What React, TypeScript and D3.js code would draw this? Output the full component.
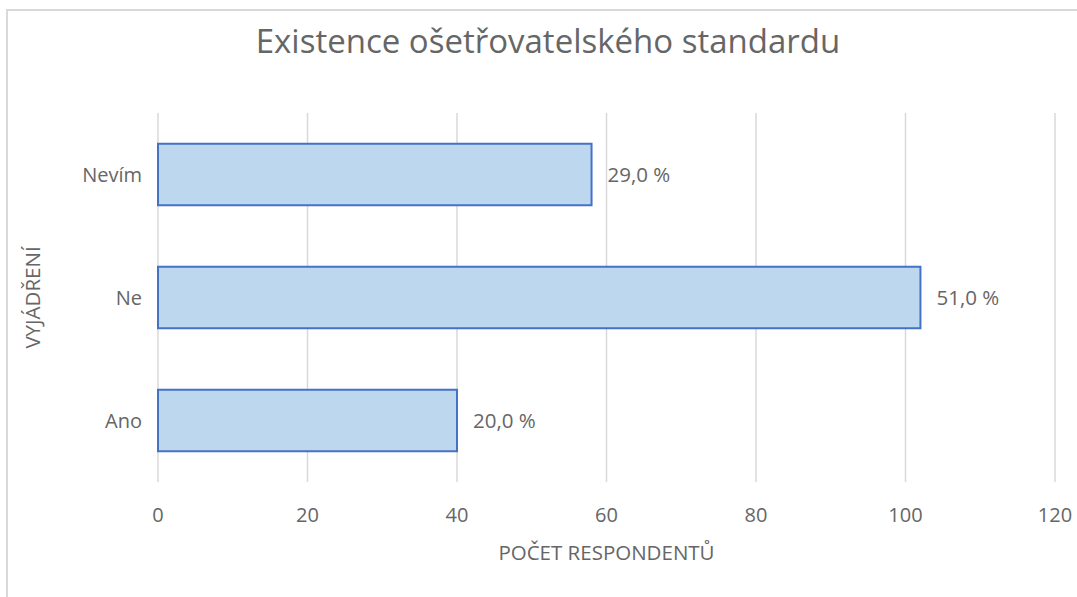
import { useEffect, useRef } from "react";
import * as d3 from "d3";

// Data
const categories = ["Nevím", "Ne", "Ano"];
const counts = [58, 102, 40];
const percentLabels = ["29,0 %", "51,0 %", "20,0 %"];
const xTicks = [0, 20, 40, 60, 80, 100, 120];

const title = "Existence ošetřovatelského standardu";
const xTitle = "POČET RESPONDENTŮ";
const yTitle = "VYJÁDŘENÍ";

const width = 1077;
const height = 597;
const margin = { top: 113, right: 22, bottom: 115, left: 158 };

const textColor = "#666666";
const gridColor = "#d9d9d9";
const font = "'Open Sans', sans-serif";

export default function App() {
  const svgRef = useRef<SVGSVGElement>(null);

  useEffect(() => {
    const svg = d3.select(svgRef.current);
    svg.selectAll("*").remove();

    const boundsWidth = width - margin.left - margin.right;
    const boundsHeight = height - margin.top - margin.bottom;

    const data = categories.map((c, i) => ({
      category: c,
      value: counts[i],
      label: percentLabels[i],
    }));

    // Scales
    const xScale = d3.scaleLinear().domain([0, 120]).range([0, boundsWidth]);
    const yScale = d3
      .scaleBand()
      .domain(categories)
      .range([0, boundsHeight])
      .paddingInner(0.5)
      .paddingOuter(0.25);

    // background + chart border
    svg
      .append("rect")
      .attr("width", width)
      .attr("height", height)
      .attr("fill", "#fff");
    svg
      .append("path")
      .attr("d", `M7,${height + 5} V10 H${width + 5}`)
      .attr("fill", "none")
      .attr("stroke", gridColor)
      .attr("stroke-width", 2);

    const g = svg
      .append("g")
      .attr("transform", `translate(${margin.left},${margin.top})`);

    // vertical gridlines
    g.append("g")
      .selectAll("line")
      .data(xTicks)
      .join("line")
      .attr("x1", (d) => xScale(d))
      .attr("x2", (d) => xScale(d))
      .attr("y1", 0)
      .attr("y2", boundsHeight)
      .attr("stroke", gridColor)
      .attr("stroke-width", 1.5);

    // bars
    g.selectAll(".bar")
      .data(data)
      .join("rect")
      .attr("class", "bar")
      .attr("x", xScale(0))
      .attr("y", (d) => yScale(d.category)!)
      .attr("width", (d) => xScale(d.value) - xScale(0))
      .attr("height", yScale.bandwidth())
      .attr("fill", "#bdd7ee")
      .attr("stroke", "#4472c4")
      .attr("stroke-width", 2);

    // data labels
    g.selectAll(".value-label")
      .data(data)
      .join("text")
      .attr("class", "value-label")
      .attr("x", (d) => xScale(d.value) + 16)
      .attr("y", (d) => yScale(d.category)! + yScale.bandwidth() / 2)
      .attr("dy", "0.35em")
      .attr("fill", textColor)
      .style("font-family", font)
      .style("font-size", "20.5px")
      .text((d) => d.label);

    // category labels
    g.selectAll(".cat-label")
      .data(categories)
      .join("text")
      .attr("class", "cat-label")
      .attr("x", -16)
      .attr("y", (d) => yScale(d)! + yScale.bandwidth() / 2)
      .attr("dy", "0.35em")
      .attr("text-anchor", "end")
      .attr("fill", textColor)
      .style("font-family", font)
      .style("font-size", "20px")
      .text((d) => d);

    // x tick labels
    g.selectAll(".tick-label")
      .data(xTicks)
      .join("text")
      .attr("class", "tick-label")
      .attr("x", (d) => xScale(d))
      .attr("y", boundsHeight + 33)
      .attr("dy", "0.35em")
      .attr("text-anchor", "middle")
      .attr("fill", textColor)
      .style("font-family", font)
      .style("font-size", "20px")
      .text((d) => d);

    // axis titles
    g.append("text")
      .attr("x", boundsWidth / 2)
      .attr("y", boundsHeight + 71)
      .attr("dy", "0.35em")
      .attr("text-anchor", "middle")
      .attr("fill", textColor)
      .style("font-family", font)
      .style("font-size", "20.5px")
      .text(xTitle);

    g.append("text")
      .attr("transform", `translate(${33 - margin.left},${boundsHeight / 2}) rotate(-90)`)
      .attr("dy", "0.35em")
      .attr("text-anchor", "middle")
      .attr("fill", textColor)
      .style("font-family", font)
      .style("font-size", "20.5px")
      .text(yTitle);

    // title
    svg
      .append("text")
      .attr("x", 548)
      .attr("y", 41)
      .attr("dy", "0.35em")
      .attr("text-anchor", "middle")
      .attr("fill", textColor)
      .style("font-family", font)
      .style("font-size", "33px")
      .text(title);
  }, []);

  return (
    <svg
      ref={svgRef}
      width={width}
      height={height}
      style={{ position: "absolute", left: 0, top: 0 }}
    ></svg>
  );
}
